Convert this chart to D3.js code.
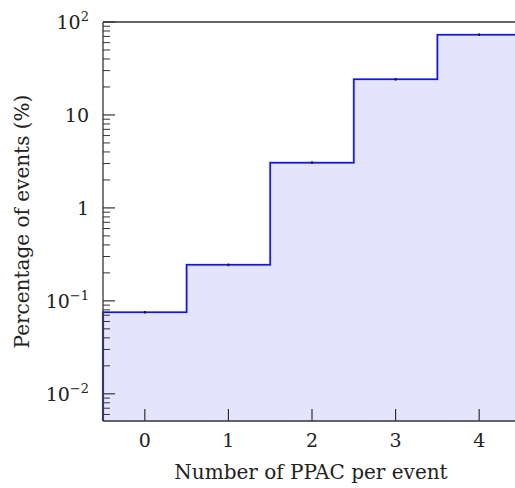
<!DOCTYPE html>
<html><head><meta charset="utf-8">
<script src="https://cdn.jsdelivr.net/npm/d3@7"></script>
<style>body{margin:0;background:#fff;} svg{display:block;} text{font-family:"DejaVu Serif",serif;fill:#222;}</style>
</head><body>
<svg id="c" width="515" height="488"></svg>
<script>
const categories = [0, 1, 2, 3, 4];
const percentages = [0.0755, 0.244, 3.07, 24.2, 73.0];
const errors = [0.0025, 0.008, 0.10, 0.8, 2.4];
const xTicks = [0, 1, 2, 3, 4];
const yMajor = [0.01, 0.1, 1, 10, 100];
const yLabels = [["10","−2"],["10","−1"],["1",""],["10",""],["10","2"]];

const svg = d3.select("#c");
const L = 103, R = 521, T = 22, B = 421;
const x = d3.scaleLinear().domain([-0.5, 4.5]).range([L, R]);
const y = d3.scaleLog().domain([0.0051, 100]).range([B, T]);

// filled step area
const pts = [];
categories.forEach((c,i)=>{ pts.push([c-0.5, percentages[i]]); pts.push([c+0.5, percentages[i]]); });
const area = d3.area().x(d=>x(d[0])).y0(B).y1(d=>y(d[1]));
svg.append("path").datum(pts).attr("d", area).attr("fill", "#e4e4fc");
const line = d3.line().x(d=>x(d[0])).y(d=>y(d[1]));
const linePts = [[-0.5, 0.0051]].concat(pts);
svg.append("path").datum(linePts).attr("d", line).attr("fill","none")
  .attr("stroke","#8888cc").attr("stroke-width",2.6).attr("opacity",0.5);
svg.append("path").datum(linePts).attr("d", line).attr("fill","none")
  .attr("stroke","#1515e0").attr("stroke-width",1.5);

// error bars
categories.forEach((c,i)=>{
  svg.append("line").attr("x1",x(c)).attr("x2",x(c))
    .attr("y1",y(percentages[i]-errors[i])).attr("y2",y(percentages[i]+errors[i]))
    .attr("stroke","#111").attr("stroke-width",1.6);
});

// frame
const ax = "#333";
svg.append("line").attr("x1",L).attr("x2",515).attr("y1",T).attr("y2",T).attr("stroke",ax).attr("stroke-width",1.3);
svg.append("line").attr("x1",L).attr("x2",515).attr("y1",B).attr("y2",B).attr("stroke",ax).attr("stroke-width",1.3);
svg.append("line").attr("x1",L).attr("x2",L).attr("y1",T).attr("y2",B).attr("stroke",ax).attr("stroke-width",1.3);

// x ticks
xTicks.forEach(t=>{
  svg.append("line").attr("x1",x(t)).attr("x2",x(t)).attr("y1",B).attr("y2",B-12).attr("stroke",ax).attr("stroke-width",1.2);
  svg.append("text").attr("x",x(t)).attr("y",447).attr("text-anchor","middle").attr("font-size",19).text(t);
});

// y ticks
const minor = [];
for (let e=-3; e<=1; e++) for (let m=2; m<=9; m++) { const v=m*Math.pow(10,e); if (v>=0.0051 && v<=100) minor.push(v); }
minor.forEach(v=>{
  svg.append("line").attr("x1",L).attr("x2",L+7).attr("y1",y(v)).attr("y2",y(v)).attr("stroke",ax).attr("stroke-width",1);
});
yMajor.forEach((v,i)=>{
  svg.append("line").attr("x1",L).attr("x2",L+12).attr("y1",y(v)).attr("y2",y(v)).attr("stroke",ax).attr("stroke-width",1.2);
  const tx = svg.append("text").attr("x",89).attr("y",y(v)+7).attr("text-anchor","end").attr("font-size",19);
  tx.append("tspan").text(yLabels[i][0]);
  if (yLabels[i][1]) tx.append("tspan").attr("dy",-8).attr("font-size",13).text(yLabels[i][1]);
});

// axis titles
svg.append("text").attr("x",(L+515)/2+2).attr("y",479).attr("text-anchor","middle").attr("font-size",20).text("Number of PPAC per event");
svg.append("text").attr("transform",`translate(29,${(T+B)/2}) rotate(-90)`).attr("text-anchor","middle").attr("font-size",20).text("Percentage of events (%)");
</script>
</body></html>
